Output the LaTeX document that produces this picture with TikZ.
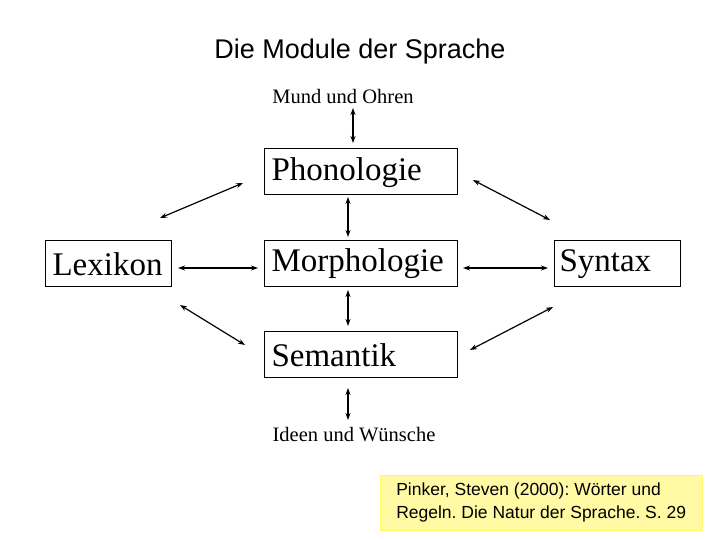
\documentclass[tikz,border=0pt]{standalone}
\usepackage{fontspec}
\setmainfont{Liberation Serif}
\setsansfont{Liberation Sans}
\usetikzlibrary{positioning,arrows.meta}
\begin{document}
\frenchspacing
\begin{tikzpicture}[x=1pt,y=-1pt,
  modul/.style={draw,line width=1pt,minimum height=46pt,inner sep=0pt},
  modtext/.style={anchor=west,font=\fontsize{33}{33}\selectfont},
  ende/.style={font=\fontsize{20.5}{20.5}\selectfont},
  pfeil/.style={{Stealth[length=7pt,width=5pt]}-{Stealth[length=7pt,width=5pt]},line width=1.2pt}]
  \useasboundingbox (0,0) rectangle (720,540);
  % Title
  \node (titel) at (360,52) {\sffamily\fontsize{27}{27}\selectfont Die Module der Sprache};
  \node (mund) [ende] at (343,96) {Mund und Ohren};
  \node (ideen) [ende] at (354,435) {Ideen und Wünsche};
  % Boxes
  \node (phon) [modul,minimum width=193pt] at (360.5,171.5) {};
  \node (morph) [modul,minimum width=193pt] at (360.5,263) {};
  \node (sem) [modul,minimum width=193pt] at (360.5,354.5) {};
  \node (lex) [modul,minimum width=126pt] at (108,263) {};
  \node (syn) [modul,minimum width=126pt] at (617,263) {};
  \node [modtext] at (268,173) {Phonologie};
  \node [modtext] at (268,264) {Morphologie};
  \node [modtext] at (268,355) {Semantik};
  \node [modtext] at (49,264) {Lexikon};
  \node [modtext] at (556,264) {Syntax};
  % Arrows
  \draw [pfeil] (353,108) -- (353,143);
  \draw [pfeil] (348,197) -- (348,237);
  \draw [pfeil] (348,290) -- (348,326);
  \draw [pfeil] (348,388) -- (348,420);
  \draw [pfeil] (178,268) -- (258,268);
  \draw [pfeil] (463,268) -- (548,268);
  \draw [pfeil] (160,218) -- (243,183);
  \draw [pfeil] (473,180) -- (550,220);
  \draw [pfeil] (180,305) -- (245,345);
  \draw [pfeil] (470,350) -- (553,307);
  % Citation
  \node (quelle) [fill=yellow!20!white!80!yellow,draw=yellow!60!white,anchor=north west,
    minimum width=322pt,minimum height=55pt,align=left,inner sep=3pt,
    font=\sffamily\fontsize{17.5}{23}\selectfont] at (380,475)
    {Pinker, Steven (2000): Wörter und\\Regeln. Die Natur der Sprache. S. 29};
\end{tikzpicture}
\end{document}
